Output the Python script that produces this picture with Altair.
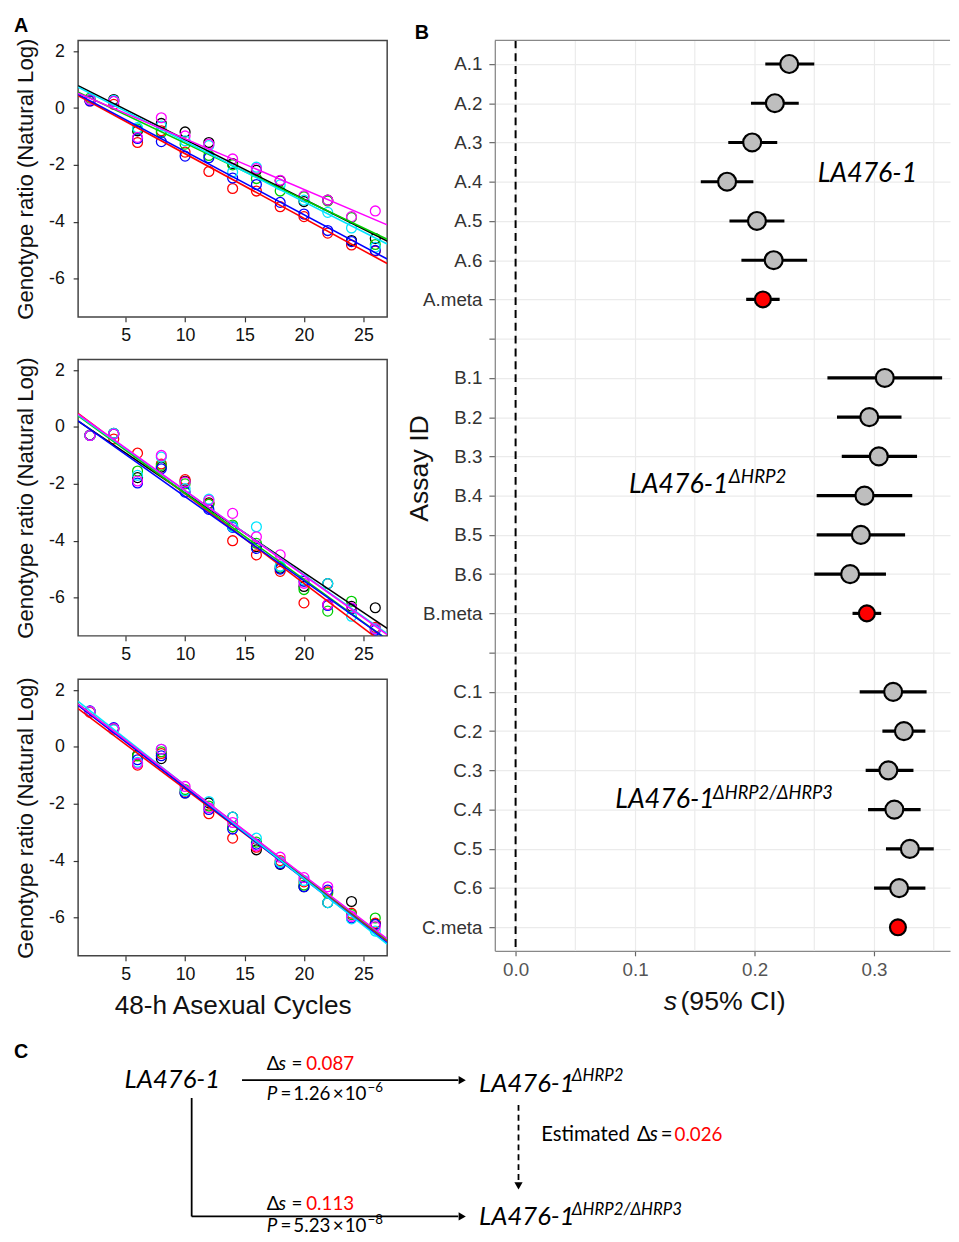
import altair as alt
import pandas as pd

# ---------------- Panel A data ----------------
CYCLES = [2, 4, 6, 8, 10, 12, 14, 16, 18, 20, 22, 24, 26]
REPS = ["black", "red", "green", "blue", "cyan", "magenta"]
REP_COLORS = ["#000000", "#ff0000", "#00cd00", "#0000ff", "#00e5ff", "#ff00ff"]

TOP_BLACK = [0.28, 0.30, -0.80, -0.54, -0.84, -1.21, -1.95, -2.19, -2.56, -3.29, -3.24, -4.66, -4.59]
TOP_RED = [0.25, 0.13, -1.21, -0.80, -1.55, -2.23, -2.83, -2.92, -3.47, -3.82, -4.40, -4.82, -5.03]
TOP_GREEN = [0.35, 0.25, -0.74, -0.86, -1.27, -1.67, -2.00, -2.48, -2.92, -3.12, -3.27, -3.85, -4.80]
TOP_BLUE = [0.25, 0.24, -1.07, -1.18, -1.69, -1.75, -2.46, -2.69, -3.32, -3.73, -4.31, -4.70, -5.01]
TOP_CYAN = [0.30, 0.27, -0.69, -0.63, -1.15, -1.32, -2.25, -2.08, -2.70, -3.24, -3.67, -4.22, -4.90]
TOP_MAGENTA = [0.30, 0.24, -1.03, -0.34, -0.98, -1.27, -1.79, -2.13, -2.54, -3.09, -3.24, -3.82, -3.62]

MID_BLACK = [-0.28, -0.22, -1.78, -1.41, -1.91, -2.67, -3.51, -4.21, -4.97, -5.61, -5.51, -6.31, -6.36]
MID_RED = [-0.30, -0.42, -0.92, -1.30, -1.85, -2.70, -4.00, -4.50, -5.08, -6.19, -6.25, -6.40, -7.05]
MID_GREEN = [-0.30, -0.25, -1.55, -1.35, -2.00, -2.72, -3.45, -4.09, -4.91, -5.72, -6.48, -6.13, -7.10]
MID_BLUE = [-0.30, -0.25, -1.97, -1.47, -2.29, -2.90, -3.53, -4.27, -5.00, -5.43, -6.28, -6.40, -7.15]
MID_CYAN = [-0.30, -0.22, -1.70, -1.06, -2.17, -2.54, -3.51, -3.51, -4.90, -5.37, -5.51, -6.66, -7.10]
MID_MAGENTA = [-0.30, -0.25, -1.90, -1.00, -1.94, -2.58, -3.04, -3.86, -4.50, -5.50, -6.25, -6.36, -7.10]

BOT_BLACK = [1.25, 0.65, -0.29, -0.41, -1.62, -1.97, -2.47, -3.62, -4.13, -4.92, -5.48, -5.44, -6.22]
BOT_RED = [1.22, 0.62, -0.64, -0.23, -1.56, -2.35, -3.21, -3.53, -4.00, -4.75, -5.10, -5.85, -6.20]
BOT_GREEN = [1.25, 0.65, -0.32, -0.17, -1.50, -2.08, -2.81, -3.35, -4.05, -4.86, -5.15, -5.90, -6.02]
BOT_BLUE = [1.27, 0.68, -0.45, -0.31, -1.62, -2.20, -2.89, -3.42, -4.11, -4.92, -5.04, -6.02, -6.25]
BOT_CYAN = [1.25, 0.60, -0.54, -0.08, -1.54, -1.92, -2.47, -3.21, -4.05, -4.70, -5.48, -6.05, -6.48]
BOT_MAGENTA = [1.25, 0.65, -0.58, -0.08, -1.39, -2.14, -2.66, -3.48, -3.88, -4.60, -4.92, -5.96, -6.32]

A_TICKS_X = [5, 10, 15, 20, 25]
A_TICKS_Y = [-6, -4, -2, 0, 2]

# ---------------- Panel B data ----------------
A_IDS = ["A.1", "A.2", "A.3", "A.4", "A.5", "A.6", "A.meta"]
B_IDS = ["B.1", "B.2", "B.3", "B.4", "B.5", "B.6", "B.meta"]
C_IDS = ["C.1", "C.2", "C.3", "C.4", "C.5", "C.6", "C.meta"]
ID_ORDER = A_IDS + [" "] + B_IDS + ["  "] + C_IDS

A_EST = [0.229, 0.217, 0.198, 0.177, 0.202, 0.216, 0.207]
A_LO = [0.209, 0.197, 0.178, 0.155, 0.179, 0.189, 0.193]
A_HI = [0.250, 0.237, 0.219, 0.199, 0.225, 0.244, 0.221]
B_EST = [0.309, 0.296, 0.304, 0.292, 0.289, 0.280, 0.294]
B_LO = [0.261, 0.269, 0.273, 0.252, 0.252, 0.250, 0.282]
B_HI = [0.357, 0.323, 0.336, 0.332, 0.326, 0.310, 0.306]
C_EST = [0.316, 0.325, 0.312, 0.317, 0.330, 0.321, 0.320]
C_LO = [0.288, 0.307, 0.293, 0.295, 0.310, 0.300, 0.314]
C_HI = [0.344, 0.343, 0.333, 0.339, 0.350, 0.343, 0.326]
B_TICKS_X = [0.0, 0.1, 0.2, 0.3]
B_MINOR_X = [0.05, 0.15, 0.25, 0.35]

SANS = "Liberation Sans"
CAL = "Lato"
ONE = pd.DataFrame({"k": [0]})


# ---------------- helpers ----------------
def txt(s, x, y, size=18, color="black", style="normal", font=CAL, weight="normal",
        align="left", baseline="alphabetic"):
    return alt.Chart(ONE).mark_text(
        text=s, fontSize=size, font=font, fontStyle=style, fontWeight=weight,
        color=color, align=align, baseline=baseline
    ).encode(x=alt.value(x), y=alt.value(y))


def seg(x1, y1, x2, y2, width=1.8, dash=None):
    kw = dict(color="black", strokeWidth=width)
    if dash:
        kw["strokeDash"] = dash
    return alt.Chart(ONE).mark_rule(**kw).encode(
        x=alt.value(x1), x2=alt.value(x2), y=alt.value(y1), y2=alt.value(y2))


def head(x, y, shape, size=70):
    return alt.Chart(ONE).mark_point(shape=shape, filled=True, color="black",
                                     size=size, opacity=1).encode(
        x=alt.value(x), y=alt.value(y))


def anchor(l, t, r, b):
    # invisible diagonal rule that fixes the layout box of a panel
    return alt.Chart(ONE).mark_rule(strokeWidth=0, opacity=0).encode(
        x=alt.value(l), x2=alt.value(r), y=alt.value(t), y2=alt.value(b))


# ---------------- Panel A ----------------
WA, HA = 313, 280


def panel_a(series, box, xtitle=None, extra=None):
    rows = []
    for rep, vals in zip(REPS, series):
        for c, v in zip(CYCLES, vals):
            rows.append({"cycle": c, "ratio": v, "rep": rep})
    df = pd.DataFrame(rows)
    xax = dict(values=A_TICKS_X, tickSize=5, tickColor="#333", tickWidth=1.2,
               labelFontSize=18, labelFont=SANS, labelColor="#111", labelPadding=5,
               domain=False, grid=False)
    if xtitle:
        xax.update(title=xtitle, titleFontSize=26.5, titleFont=SANS, titleFontWeight="normal",
                   titleColor="#111", titleY=50, titleBaseline="middle")
    else:
        xax.update(title=None)
    x = alt.X("cycle:Q", scale=alt.Scale(domain=[1, 27], nice=False, zero=False),
              axis=alt.Axis(**xax))
    y = alt.Y("ratio:Q", scale=alt.Scale(domain=[-7.35, 2.38], nice=False, zero=False),
              axis=alt.Axis(values=A_TICKS_Y, tickSize=5, tickColor="#333", tickWidth=1.2,
                            labelFontSize=18, labelFont=SANS, labelColor="#111",
                            labelPadding=9, domain=False, grid=False,
                            labelExpr="replace(datum.label, '\u2212', '-')",
                            title="Genotype ratio (Natural Log)", titleFontSize=22.5,
                            titleFont=SANS, titleFontWeight="normal", titleColor="#111",
                            titleX=-53, titleBaseline="middle"))
    col = alt.Color("rep:N", scale=alt.Scale(domain=REPS, range=REP_COLORS), legend=None)
    pts = alt.Chart(df).mark_point(shape="circle", filled=False, size=100, strokeWidth=1.3,
                                   opacity=1, clip=True).encode(x=x, y=y, color=col)
    lines = alt.Chart(df).transform_regression(
        "cycle", "ratio", groupby=["rep"], extent=[1, 27]
    ).mark_line(strokeWidth=1.6, clip=True).encode(x="cycle:Q", y="ratio:Q", color=col)
    layers = [anchor(*box), pts, lines]
    if extra:
        layers += extra
    return alt.layer(*layers).properties(
        width=WA, height=HA, view=alt.ViewBackground(stroke="#444", strokeWidth=1.5))


a1 = panel_a([TOP_BLACK, TOP_RED, TOP_GREEN, TOP_BLUE, TOP_CYAN, TOP_MAGENTA],
             box=(-67, -27, WA, 313),
             extra=[txt("A", -65, -9, size=20, font=SANS, weight="bold")])
a2 = panel_a([MID_BLACK, MID_RED, MID_GREEN, MID_BLUE, MID_CYAN, MID_MAGENTA],
             box=(-67, -8, WA, 314))
a3 = panel_a([BOT_BLACK, BOT_RED, BOT_GREEN, BOT_BLUE, BOT_CYAN, BOT_MAGENTA],
             box=(-67, -8, WA, 350), xtitle="48-h Asexual Cycles")
col_a = alt.vconcat(a1, a2, a3, spacing=0)

# ---------------- Panel B ----------------
WB, HB = 461, 922
dfb = pd.DataFrame({
    "id": A_IDS + B_IDS + C_IDS,
    "est": A_EST + B_EST + C_EST,
    "lo": A_LO + B_LO + C_LO,
    "hi": A_HI + B_HI + C_HI,
    "kind": (["rep"] * 6 + ["meta"]) * 3,
})
xs = alt.Scale(domain=[-0.0174, 0.3636], nice=False, zero=False)
ys = alt.Scale(domain=ID_ORDER, type="point", padding=0.6)
yax = alt.Axis(title="Assay ID", titleFontSize=27, titleFont=SANS, titleFontWeight="normal",
               titleColor="#111", titleX=-76, titleY=433, titleBaseline="middle",
               labelFontSize=19, labelFont=SANS, labelColor="#333", labelPadding=7,
               tickSize=6, tickColor="#666", tickWidth=1.2, grid=True, gridColor="#ebebeb",
               gridWidth=1.2, domain=True, domainColor="#888", domainWidth=1.3)
xax = alt.Axis(values=B_TICKS_X, format=".1f", title=None, labelFontSize=19, labelFont=SANS,
               labelColor="#555", labelPadding=5, tickSize=5, tickColor="#666", tickWidth=1.2,
               grid=True, gridColor="#ebebeb", gridWidth=1.2, domain=True,
               domainColor="#888", domainWidth=1.3)

minor = alt.Chart(pd.DataFrame({"g": B_MINOR_X})).mark_rule(
    color="#ebebeb", strokeWidth=1.2).encode(x=alt.X("g:Q", scale=xs, axis=xax))
zero = alt.Chart(ONE).mark_rule(strokeDash=[8, 5], strokeWidth=2, color="black").encode(
    x=alt.X(datum=0, type="quantitative"))
bars = alt.Chart(dfb).mark_rule(strokeWidth=3.2, color="black").encode(
    x=alt.X("lo:Q", scale=xs), x2="hi:Q", y=alt.Y("id:N", scale=ys, axis=yax))
dots = alt.Chart(dfb).mark_point(shape="circle", filled=True, stroke="black", strokeWidth=2.2,
                                 opacity=1).encode(
    x=alt.X("est:Q", scale=xs), y=alt.Y("id:N", scale=ys),
    fill=alt.Fill("kind:N", scale=alt.Scale(domain=["rep", "meta"], range=["#bebebe", "#ff0000"]),
                  legend=None),
    size=alt.Size("kind:N", scale=alt.Scale(domain=["rep", "meta"], range=[330, 260]),
                  legend=None))
topline = alt.Chart(ONE).mark_rule(color="#888", strokeWidth=1.3).encode(
    x=alt.value(0), x2=alt.value(WB), y=alt.value(0))

b_ann = [
    txt("B", -81, -1, size=20, font=SANS, weight="bold"),
    txt("LA476-1", 327, 143, size=27, style="italic"),
    txt("LA476-1", 136, 458, size=27, style="italic"),
    txt("ΔHRP2", 237, 448, size=19, style="italic"),
    txt("LA476-1", 122, 777, size=27, style="italic"),
    txt("ΔHRP2/ΔHRP3", 221, 768, size=18.5, style="italic"),
    txt("s", 171, 982, size=27, font=SANS, style="italic", color="#111"),
    txt("(95% CI)", 188, 982, size=27, font=SANS, color="#111"),
]
chart_b = alt.layer(anchor(-101, -27, WB, 993), minor, zero, bars, dots, topline,
                    *b_ann).properties(width=WB, height=HB,
                                       view=alt.ViewBackground(stroke=None))

top_row = alt.hconcat(col_a, chart_b, spacing=7)


# ---------------- Panel C (diagram) ----------------
def ds_label(base, value):
    return [
        txt("Δ", 191, base, size=19),
        txt("s", 203, base, size=19, style="italic"),
        txt("=", 216, base, size=19),
        txt(value, 231, base, size=19, color="#ff0000"),
    ]


def p_label(base, mant, exp):
    return [
        txt("P", 191, base, size=19, style="italic"),
        txt("=", 205, base, size=19),
        txt(mant, 218, base, size=19),
        txt("×", 258, base, size=19),
        txt("10", 270, base, size=19),
        txt(exp, 293, base - 8, size=13.5),
    ]


c_layers = [
    anchor(-67, 0, 870, 200),
    txt("C", -65, 27, size=20, font=SANS, weight="bold"),
    txt("LA476-1", 47, 58, size=26, style="italic"),
    seg(166, 50, 385, 50),
    head(389, 50, "triangle-right"),
    *ds_label(40, "0.087"),
    *p_label(70, "1.26", "−6"),
    txt("LA476-1", 406, 62, size=26, style="italic"),
    txt("ΔHRP2", 500, 51, size=17, style="italic"),
    seg(446, 75, 446, 152, width=1.8, dash=[6, 4]),
    head(446, 157, "triangle-down"),
    txt("Estimated", 469, 112, size=20.5),
    txt("Δ", 566, 112, size=20.5),
    txt("s", 579, 112, size=20.5, style="italic"),
    txt("=", 590, 112, size=20.5),
    txt("0.026", 604, 112, size=19, color="#ff0000"),
    seg(115, 68, 115, 188),
    seg(115, 188, 385, 188),
    head(389, 188, "triangle-right"),
    *ds_label(181, "0.113"),
    *p_label(204, "5.23", "−8"),
    txt("LA476-1", 406, 197, size=26, style="italic"),
    txt("ΔHRP2/ΔHRP3", 500, 186, size=17, style="italic"),
]
chart_c = alt.layer(*c_layers).properties(
    width=870, height=190, view=alt.ViewBackground(stroke=None))

chart = alt.vconcat(top_row, chart_c, spacing=5).properties(
    padding={"left": 3, "top": -3, "right": 0, "bottom": 0},
    background="white",
)

chart.save("out.html", embed_options={"renderer": "svg", "actions": False})
